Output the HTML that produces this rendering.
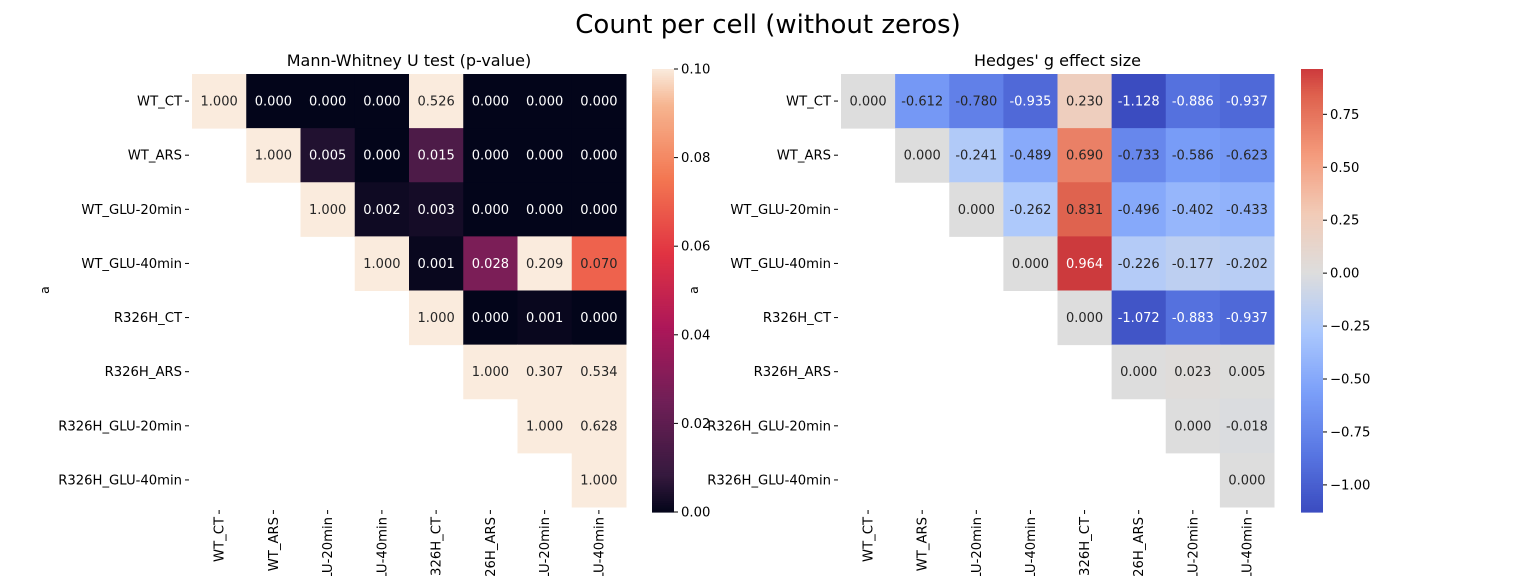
<!DOCTYPE html>
<html><head><meta charset="utf-8">
<style>html,body{margin:0;background:#fff;overflow:hidden;width:1536px;height:576px}svg{display:block;font-family:"DejaVu Sans","Liberation Sans",sans-serif}</style>
</head><body>
<svg id="c" width="1536" height="576" viewBox="0 0 1536 576" overflow="hidden" xmlns="http://www.w3.org/2000/svg">
<text x="768" y="33" font-size="26" text-anchor="middle" fill="#000">Count per cell (without zeros)</text>
</svg>
<script>
const labels=["WT_CT","WT_ARS","WT_GLU-20min","WT_GLU-40min","R326H_CT","R326H_ARS","R326H_GLU-20min","R326H_GLU-40min"];
const pvals=[
[1.000,0.000,0.000,0.000,0.526,0.000,0.000,0.000],
[null,1.000,0.005,0.000,0.015,0.000,0.000,0.000],
[null,null,1.000,0.002,0.003,0.000,0.000,0.000],
[null,null,null,1.000,0.001,0.028,0.209,0.070],
[null,null,null,null,1.000,0.000,0.001,0.000],
[null,null,null,null,null,1.000,0.307,0.534],
[null,null,null,null,null,null,1.000,0.628],
[null,null,null,null,null,null,null,1.000]];
const gvals=[
[0.000,-0.612,-0.780,-0.935,0.230,-1.128,-0.886,-0.937],
[null,0.000,-0.241,-0.489,0.690,-0.733,-0.586,-0.623],
[null,null,0.000,-0.262,0.831,-0.496,-0.402,-0.433],
[null,null,null,0.000,0.964,-0.226,-0.177,-0.202],
[null,null,null,null,0.000,-1.072,-0.883,-0.937],
[null,null,null,null,null,0.000,0.023,0.005],
[null,null,null,null,null,null,0.000,-0.018],
[null,null,null,null,null,null,null,0.000]];
const pTicks=[0.00,0.02,0.04,0.06,0.08,0.10];
const gTicks=[0.75,0.50,0.25,0.00,-0.25,-0.50,-0.75,-1.00];
const rocket=[[0,[3,5,26]],[1/12,[53,25,62]],[3/12,[112,31,87]],[5/12,[173,23,89]],[7/12,[225,51,66]],[9/12,[243,118,81]],[11/12,[246,180,143]],[1,[250,235,221]]];
const coolwarm=[[0,[59,76,192]],[0.125,[89,119,227]],[0.25,[123,159,249]],[0.375,[170,199,253]],[0.5,[221,221,221]],[0.625,[242,203,183]],[0.75,[244,154,123]],[0.875,[222,96,77]],[1,[180,4,38]]];
function cmap(st,t){t=Math.max(0,Math.min(1,t));for(let i=1;i<st.length;i++){if(t<=st[i][0]){const a=st[i-1],b=st[i],f=(t-a[0])/(b[0]-a[0]);return a[1].map((v,k)=>Math.round(v+(b[1][k]-v)*f));}}return st[st.length-1][1];}
const svg=document.getElementById('c');const NS="http://www.w3.org/2000/svg";
function el(tag,attrs,txt){const e=document.createElementNS(NS,tag);for(const k in attrs)e.setAttribute(k,attrs[k]);if(txt!==undefined)e.textContent=txt;svg.appendChild(e);return e;}
function heat(cfg){
 const {x0,x1,y0,y1,data,st,vmin,vmax,cmin,cmax,title,cbx,ticks,fmt,pref}=cfg;
 const n=labels.length,cw=(x1-x0)/n,ch=(y1-y0)/n;
 const xs=i=>x0+i*cw, ys=j=>y0+j*ch;
 const norm=v=>(v-cmin)/(cmax-cmin);
 let t=el('text',{x:(x0+x1)/2,y:66,'font-size':16,'text-anchor':'middle'},title);
 
 for(let r=0;r<n;r++)for(let c=0;c<n;c++){const v=data[r][c];if(v===null)continue;
  const col=cmap(st,norm(v));
  const rc=el('rect',{x:xs(c),y:ys(r),width:cw+0.5,height:ch+0.5,fill:`rgb(${col})`});
  
  const lum=0.299*col[0]+0.587*col[1]+0.114*col[2];
  const tx=el('text',{x:xs(c)+cw/2,y:ys(r)+ch/2+4.5,'font-size':13,'text-anchor':'middle',fill:lum<128?'#fff':'#262626'},v.toFixed(3));
  }
 for(let i=0;i<n;i++){
  const y=ys(i)+ch/2;el('line',{x1:x0-7,x2:x0-3,y1:y,y2:y,stroke:'#000','stroke-width':1});
  const l=el('text',{x:x0-10,y:y+4.5,'font-size':13.2,'text-anchor':'end'},labels[i]);
  
  const x=xs(i)+cw/2;el('line',{x1:x,x2:x,y1:y1+3,y2:y1+7,stroke:'#000','stroke-width':1});
  const cl=el('text',{x:0,y:0,'font-size':13.2,'text-anchor':'end',transform:`translate(${x+4.5},${y1+10}) rotate(-90)`},labels[i]);
  }
 const ya=el('text',{x:0,y:0,'font-size':12.5,'text-anchor':'middle',transform:`translate(${cfg.ylx},290) rotate(-90)`},'a');
 
 const cy0=69,cy1=512,steps=200;
 for(let k=0;k<steps;k++){const f=(k+0.5)/steps;const v=vmax-f*(vmax-vmin);const col=cmap(st,norm(v));
  const r=el('rect',{x:cbx,y:cy0+k/steps*(cy1-cy0),width:22,height:(cy1-cy0)/steps+0.6,fill:`rgb(${col})`});
  }
 for(const tv of ticks){const y=cy0+(vmax-tv)/(vmax-vmin)*(cy1-cy0);
  el('line',{x1:cbx+22,x2:cbx+26,y1:y,y2:y,stroke:'#000','stroke-width':1});
  const tl=el('text',{x:cbx+29,y:y+4.5,'font-size':13.2},fmt(tv));
  }
}
heat({x0:192,x1:626,y0:74,y1:507,data:pvals,st:rocket,vmin:0,vmax:0.1,cmin:0,cmax:0.1,title:'Mann-Whitney U test (p-value)',cbx:652,ticks:pTicks,fmt:v=>v.toFixed(2),pref:'pvalue',ylx:49});
heat({x0:841,x1:1274,y0:74,y1:507,data:gvals,st:coolwarm,vmin:-1.128,vmax:0.964,cmin:-1.128,cmax:1.128,title:"Hedges' g effect size",cbx:1301,ticks:gTicks,fmt:v=>v<0?'\u2212'+Math.abs(v).toFixed(2):v.toFixed(2),pref:'hedges',ylx:698});
</script>
</body></html>
